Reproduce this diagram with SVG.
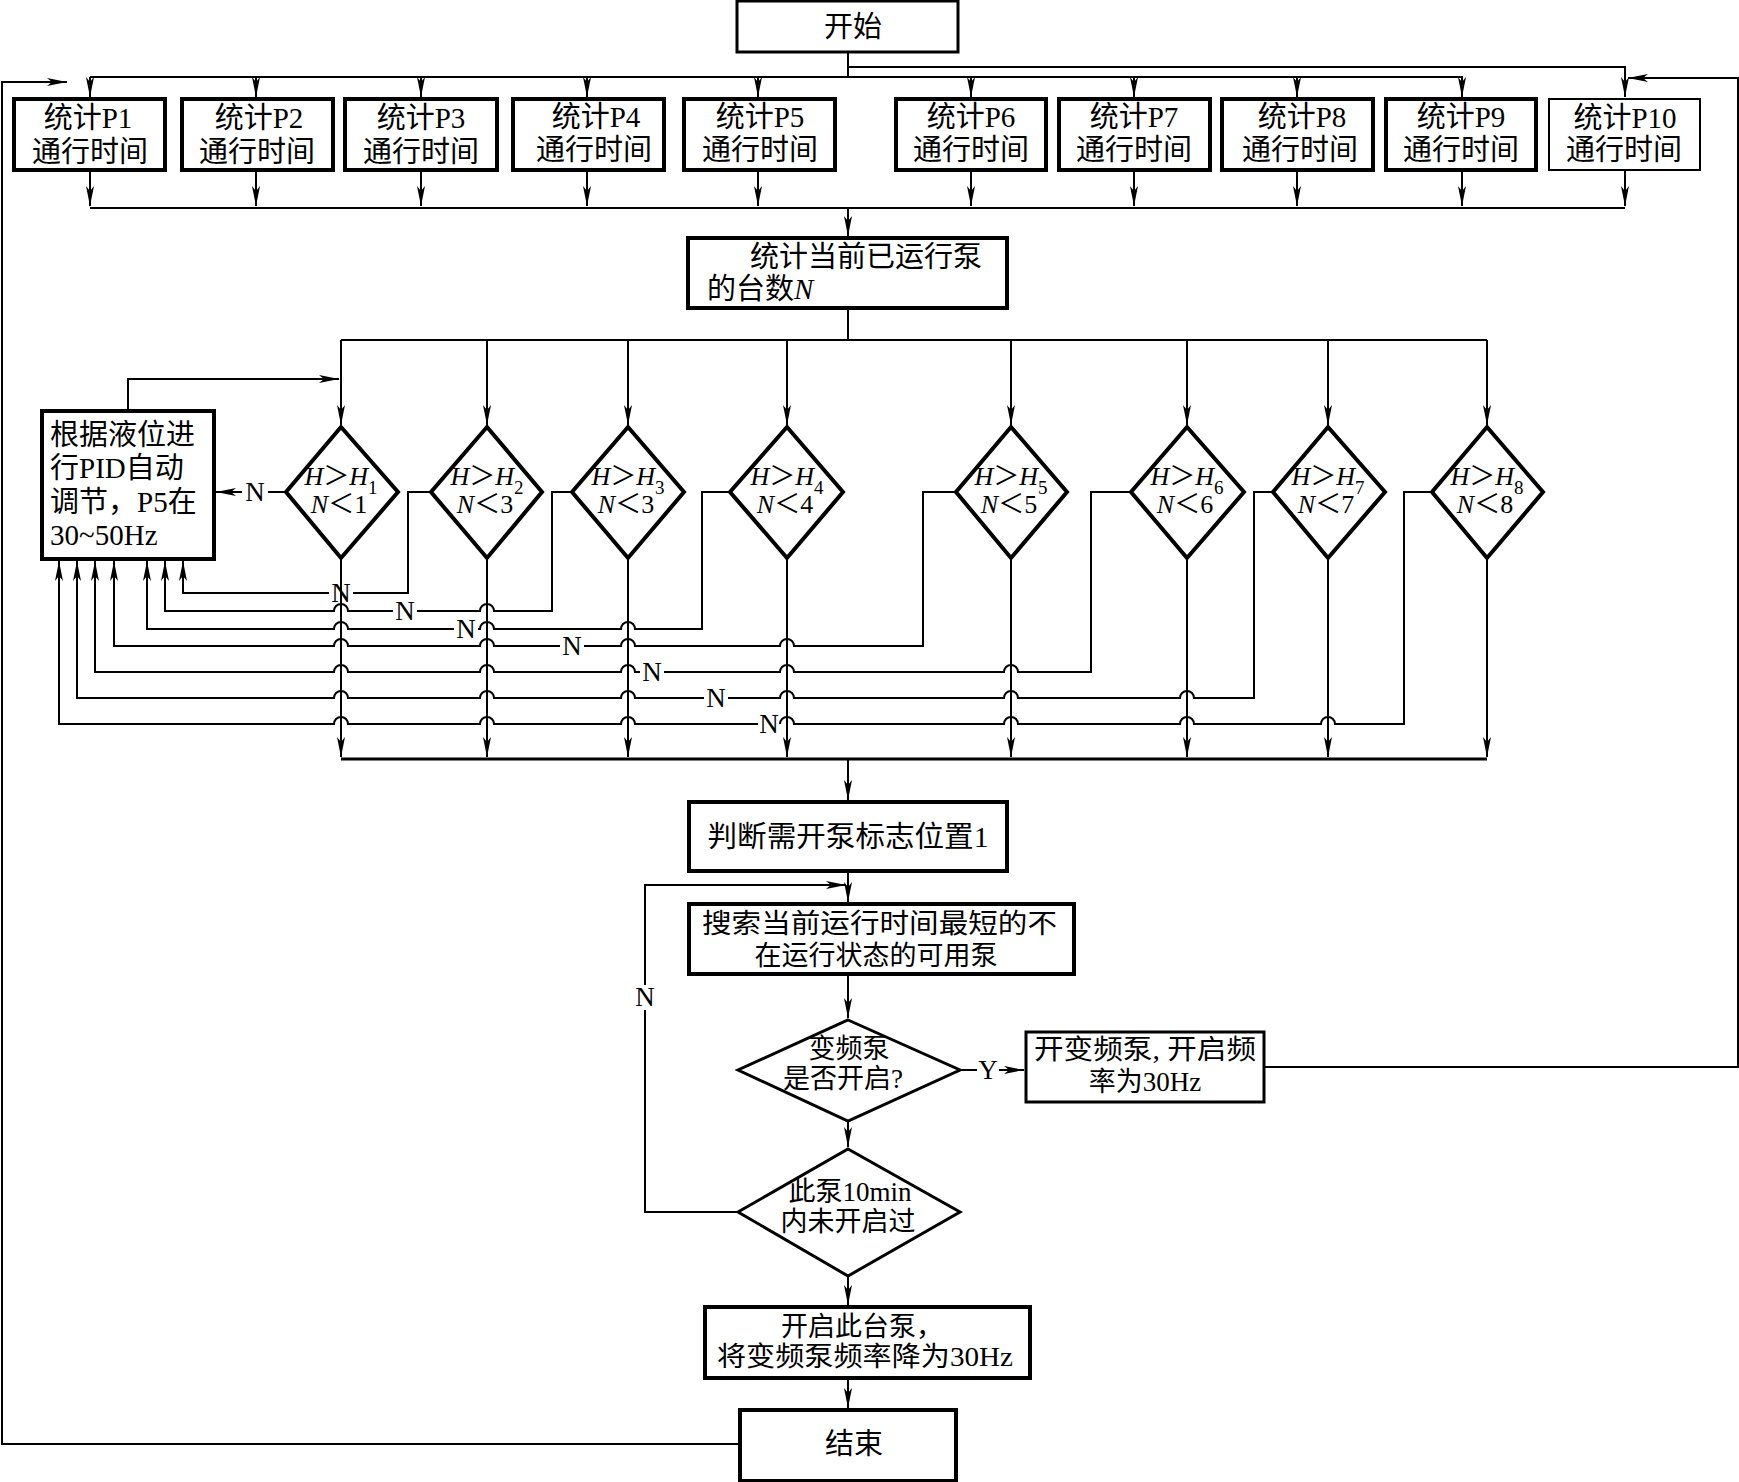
<svg xmlns="http://www.w3.org/2000/svg" width="1739" height="1482" viewBox="0 0 1739 1482">
<style>
.t{font-family:"Liberation Serif","Noto Sans CJK SC",serif;font-size:29px;fill:#000}
.s{font-size:27px}
.d{font-family:"Liberation Serif","Noto Sans CJK SC",serif;font-size:26px;fill:#000;text-anchor:middle}
.c{text-anchor:middle}
.i{font-style:italic}
.box{fill:#fff;stroke:#000;stroke-width:4}
.thin{fill:#fff;stroke:#000;stroke-width:2}
.dia{fill:#fff;stroke:#000;stroke-width:4}
.ln{fill:none;stroke:#000;stroke-width:2}
.lb{font-family:"Liberation Serif",serif;font-size:27px;text-anchor:middle;fill:#000}
</style>
<defs>
<marker id="a" markerWidth="22" markerHeight="10" refX="20" refY="5" orient="auto" markerUnits="userSpaceOnUse">
<path d="M0,1 L20,5 L0,9 L5,5 z" fill="#000"/>
</marker>
</defs>
<rect width="1739" height="1482" fill="#fff"/>

<g id="connectors">
<path class="ln" d="M848,52 V77 M90,77 H1463"/>
<path class="ln" d="M848,67 H1625 V97" marker-end="url(#a)"/>
<path class="ln" d="M90,77 V97" marker-end="url(#a)"/>
<path class="ln" d="M256,77 V97" marker-end="url(#a)"/>
<path class="ln" d="M421,77 V97" marker-end="url(#a)"/>
<path class="ln" d="M587,77 V97" marker-end="url(#a)"/>
<path class="ln" d="M758,77 V97" marker-end="url(#a)"/>
<path class="ln" d="M971,77 V97" marker-end="url(#a)"/>
<path class="ln" d="M1134,77 V97" marker-end="url(#a)"/>
<path class="ln" d="M1297,77 V97" marker-end="url(#a)"/>
<path class="ln" d="M1462,77 V97" marker-end="url(#a)"/>
<path class="ln" d="M90,170 V206" marker-end="url(#a)"/>
<path class="ln" d="M256,170 V206" marker-end="url(#a)"/>
<path class="ln" d="M421,170 V206" marker-end="url(#a)"/>
<path class="ln" d="M587,170 V206" marker-end="url(#a)"/>
<path class="ln" d="M758,170 V206" marker-end="url(#a)"/>
<path class="ln" d="M971,170 V206" marker-end="url(#a)"/>
<path class="ln" d="M1134,170 V206" marker-end="url(#a)"/>
<path class="ln" d="M1297,170 V206" marker-end="url(#a)"/>
<path class="ln" d="M1462,170 V206" marker-end="url(#a)"/>
<path class="ln" d="M1625,170 V206" marker-end="url(#a)"/>
<path class="ln" d="M90,208 H1625"/>
<path class="ln" d="M848,208 V236" marker-end="url(#a)"/>
<path class="ln" d="M848,308 V340 M341,340 H1487"/>
<path class="ln" d="M341,340 V425" marker-end="url(#a)"/>
<path class="ln" d="M487,340 V425" marker-end="url(#a)"/>
<path class="ln" d="M628,340 V425" marker-end="url(#a)"/>
<path class="ln" d="M787,340 V425" marker-end="url(#a)"/>
<path class="ln" d="M1011,340 V425" marker-end="url(#a)"/>
<path class="ln" d="M1187,340 V425" marker-end="url(#a)"/>
<path class="ln" d="M1328,340 V425" marker-end="url(#a)"/>
<path class="ln" d="M1487,340 V425" marker-end="url(#a)"/>
<path class="ln" d="M128,411 V379 H339" marker-end="url(#a)"/>
<path class="ln" d="M286,492 H268"/>
<path class="ln" d="M242,492 H216" marker-end="url(#a)"/>
<text class="lb" x="255" y="501">N</text>
<path class="ln" d="M431,492 H408 V593 H353 M329,593 H183 V561" marker-end="url(#a)"/>
<text class="lb" x="341" y="602">N</text>
<path class="ln" d="M572,492 H552 V611 H494 A7,7 0 0 0 480,611 H417 M393,611 H348 A7,7 0 0 0 334,611 H165 V561" marker-end="url(#a)"/>
<text class="lb" x="405" y="620">N</text>
<path class="ln" d="M730,492 H702 V629 H635 A7,7 0 0 0 621,629 H494 A7,7 0 0 0 480,629 H478 M454,629 H348 A7,7 0 0 0 334,629 H147 V561" marker-end="url(#a)"/>
<text class="lb" x="466" y="638">N</text>
<path class="ln" d="M956,492 H923 V646 H794 A7,7 0 0 0 780,646 H635 A7,7 0 0 0 621,646 H584 M560,646 H494 A7,7 0 0 0 480,646 H348 A7,7 0 0 0 334,646 H114 V561" marker-end="url(#a)"/>
<text class="lb" x="572" y="655">N</text>
<path class="ln" d="M1131,492 H1091 V672 H1018 A7,7 0 0 0 1004,672 H794 A7,7 0 0 0 780,672 H664 M640,672 H635 A7,7 0 0 0 621,672 H494 A7,7 0 0 0 480,672 H348 A7,7 0 0 0 334,672 H95 V561" marker-end="url(#a)"/>
<text class="lb" x="652" y="681">N</text>
<path class="ln" d="M1273,492 H1254 V698 H1194 A7,7 0 0 0 1180,698 H1018 A7,7 0 0 0 1004,698 H794 A7,7 0 0 0 780,698 H728 M704,698 H635 A7,7 0 0 0 621,698 H494 A7,7 0 0 0 480,698 H348 A7,7 0 0 0 334,698 H77 V561" marker-end="url(#a)"/>
<text class="lb" x="716" y="707">N</text>
<path class="ln" d="M1432,492 H1404 V724 H1335 A7,7 0 0 0 1321,724 H1194 A7,7 0 0 0 1180,724 H1018 A7,7 0 0 0 1004,724 H794 A7,7 0 0 0 780,724 M758,724 H635 A7,7 0 0 0 621,724 H494 A7,7 0 0 0 480,724 H348 A7,7 0 0 0 334,724 H59 V561" marker-end="url(#a)"/>
<text class="lb" x="769" y="733">N</text>
<path class="ln" d="M341,558 V757" marker-end="url(#a)"/>
<path class="ln" d="M487,558 V757" marker-end="url(#a)"/>
<path class="ln" d="M628,558 V757" marker-end="url(#a)"/>
<path class="ln" d="M787,558 V757" marker-end="url(#a)"/>
<path class="ln" d="M1011,558 V757" marker-end="url(#a)"/>
<path class="ln" d="M1187,558 V757" marker-end="url(#a)"/>
<path class="ln" d="M1328,558 V757" marker-end="url(#a)"/>
<path class="ln" d="M1487,558 V757" marker-end="url(#a)"/>
<path class="ln" style="stroke-width:3" d="M341,759 H1487"/>
<path class="ln" d="M848,759 V800" marker-end="url(#a)"/>
<path class="ln" d="M848,871 V902" marker-end="url(#a)"/>
<path class="ln" d="M738,1212 H645 V1010 M645,985 V885 H846" marker-end="url(#a)"/>
<text class="lb" x="645" y="1006">N</text>
<path class="ln" d="M848,974 V1018" marker-end="url(#a)"/>
<path class="ln" d="M960,1070 H977"/>
<path class="ln" d="M999,1070 H1024" marker-end="url(#a)"/>
<text class="lb" x="988" y="1079">Y</text>
<path class="ln" d="M1264,1067 H1738 V78 H1628" marker-end="url(#a)"/>
<path class="ln" d="M848,1121 V1147" marker-end="url(#a)"/>
<path class="ln" d="M848,1276 V1305" marker-end="url(#a)"/>
<path class="ln" d="M848,1378 V1408" marker-end="url(#a)"/>
<path class="ln" d="M740,1444 H2 V82 H67" marker-end="url(#a)"/>
</g>

<g id="start"><rect class="box" style="stroke-width:3" x="737" y="1" width="221" height="51"/><text class="t c" x="853" y="37">开始</text></g>

<g id="p1"><rect class="box" x="14" y="99" width="151" height="71"/><text class="t c" x="88" y="128">统计P1</text><text class="t c" x="90" y="162">通行时间</text></g>
<g id="p2"><rect class="box" x="182" y="99" width="151" height="71"/><text class="t c" x="259" y="128">统计P2</text><text class="t c" x="257" y="162">通行时间</text></g>
<g id="p3"><rect class="box" x="345" y="99" width="152" height="71"/><text class="t c" x="421" y="128">统计P3</text><text class="t c" x="421" y="162">通行时间</text></g>
<g id="p4"><rect class="box" x="513" y="99" width="151" height="71"/><text class="t c" x="596" y="127">统计P4</text><text class="t c" x="594" y="160">通行时间</text></g>
<g id="p5"><rect class="box" x="684" y="99" width="151" height="71"/><text class="t c" x="760" y="127">统计P5</text><text class="t c" x="760" y="160">通行时间</text></g>
<g id="p6"><rect class="box" x="896" y="99" width="150" height="71"/><text class="t c" x="971" y="127">统计P6</text><text class="t c" x="971" y="160">通行时间</text></g>
<g id="p7"><rect class="box" x="1059" y="99" width="151" height="71"/><text class="t c" x="1134" y="127">统计P7</text><text class="t c" x="1134" y="160">通行时间</text></g>
<g id="p8"><rect class="box" x="1222" y="99" width="151" height="71"/><text class="t c" x="1302" y="127">统计P8</text><text class="t c" x="1300" y="160">通行时间</text></g>
<g id="p9"><rect class="box" x="1386" y="99" width="150" height="71"/><text class="t c" x="1461" y="127">统计P9</text><text class="t c" x="1461" y="160">通行时间</text></g>
<g id="p10"><rect class="thin" x="1549" y="99" width="151" height="71"/><text class="t c" x="1625" y="128">统计P10</text><text class="t c" x="1624" y="160">通行时间</text></g>

<g id="count"><rect class="box" x="688" y="238" width="319" height="70"/><text class="t" x="750" y="267">统计当前已运行泵</text><text class="t" x="707" y="299">的台数<tspan class="i">N</tspan></text></g>

<g id="pid"><rect class="box" x="42" y="411" width="172" height="148"/>
<text class="t" x="50" y="445">根据液位进</text><text class="t" x="50" y="478">行PID自动</text><text class="t" x="50" y="512">调节，P5在</text><text class="t" x="50" y="545">30~50Hz</text></g>

<g id="d1"><path class="dia" d="M341,427 L398,492 L341,558 L286,492 Z"/><text class="d" x="341" y="485"><tspan class="i">H</tspan>＞<tspan class="i">H</tspan><tspan font-size="19" dy="9">1</tspan></text><text class="d" x="339" y="513"><tspan class="i">N</tspan>＜1</text></g>
<g id="d2"><path class="dia" d="M487,427 L542,492 L487,558 L431,492 Z"/><text class="d" x="487" y="485"><tspan class="i">H</tspan>＞<tspan class="i">H</tspan><tspan font-size="19" dy="9">2</tspan></text><text class="d" x="485" y="513"><tspan class="i">N</tspan>＜3</text></g>
<g id="d3"><path class="dia" d="M628,427 L684,492 L628,558 L572,492 Z"/><text class="d" x="628" y="485"><tspan class="i">H</tspan>＞<tspan class="i">H</tspan><tspan font-size="19" dy="9">3</tspan></text><text class="d" x="626" y="513"><tspan class="i">N</tspan>＜3</text></g>
<g id="d4"><path class="dia" d="M787,427 L843,492 L787,558 L730,492 Z"/><text class="d" x="787" y="485"><tspan class="i">H</tspan>＞<tspan class="i">H</tspan><tspan font-size="19" dy="9">4</tspan></text><text class="d" x="785" y="513"><tspan class="i">N</tspan>＜4</text></g>
<g id="d5"><path class="dia" d="M1011,427 L1067,492 L1011,558 L956,492 Z"/><text class="d" x="1011" y="485"><tspan class="i">H</tspan>＞<tspan class="i">H</tspan><tspan font-size="19" dy="9">5</tspan></text><text class="d" x="1009" y="513"><tspan class="i">N</tspan>＜5</text></g>
<g id="d6"><path class="dia" d="M1187,427 L1244,492 L1187,558 L1131,492 Z"/><text class="d" x="1187" y="485"><tspan class="i">H</tspan>＞<tspan class="i">H</tspan><tspan font-size="19" dy="9">6</tspan></text><text class="d" x="1185" y="513"><tspan class="i">N</tspan>＜6</text></g>
<g id="d7"><path class="dia" d="M1328,427 L1385,492 L1328,558 L1273,492 Z"/><text class="d" x="1328" y="485"><tspan class="i">H</tspan>＞<tspan class="i">H</tspan><tspan font-size="19" dy="9">7</tspan></text><text class="d" x="1326" y="513"><tspan class="i">N</tspan>＜7</text></g>
<g id="d8"><path class="dia" d="M1487,427 L1543,492 L1487,558 L1432,492 Z"/><text class="d" x="1487" y="485"><tspan class="i">H</tspan>＞<tspan class="i">H</tspan><tspan font-size="19" dy="9">8</tspan></text><text class="d" x="1485" y="513"><tspan class="i">N</tspan>＜8</text></g>

<g id="judge"><rect class="box" x="689" y="802" width="318" height="69"/><text class="t c" x="848" y="847" textLength="281" lengthAdjust="spacingAndGlyphs">判断需开泵标志位置1</text></g>
<g id="search"><rect class="box" x="689" y="904" width="385" height="70"/><text class="t s" x="702" y="933" textLength="355" lengthAdjust="spacingAndGlyphs">搜索当前运行时间最短的不</text><text class="t s c" x="876" y="965">在运行状态的可用泵</text></g>
<g id="vfd"><path class="dia" style="stroke-width:3" d="M848,1020 L960,1070 L848,1121 L738,1070 Z"/><text class="t s c" x="849" y="1058">变频泵</text><text class="t s c" x="843" y="1088">是否开启?</text></g>
<g id="openvfd"><rect class="box" style="stroke-width:3" x="1026" y="1032" width="238" height="70"/><text class="t s" x="1034" y="1059" textLength="222" lengthAdjust="spacingAndGlyphs">开变频泵, 开启频</text><text class="t s c" x="1145" y="1091">率为30Hz</text></g>
<g id="tenmin"><path class="dia" style="stroke-width:3" d="M848,1149 L960,1212 L848,1276 L738,1212 Z"/><text class="t s c" x="850" y="1201">此泵10min</text><text class="t s c" x="848" y="1231">内未开启过</text></g>
<g id="openpump"><rect class="box" x="705" y="1307" width="325" height="71"/><text class="t s c" x="862" y="1336">开启此台泵，</text><text class="t s c" x="865" y="1366" textLength="296" lengthAdjust="spacingAndGlyphs">将变频泵频率降为30Hz</text></g>
<g id="end"><rect class="box" x="740" y="1410" width="216" height="71"/><text class="t c" x="854" y="1454">结束</text></g>
</svg>
